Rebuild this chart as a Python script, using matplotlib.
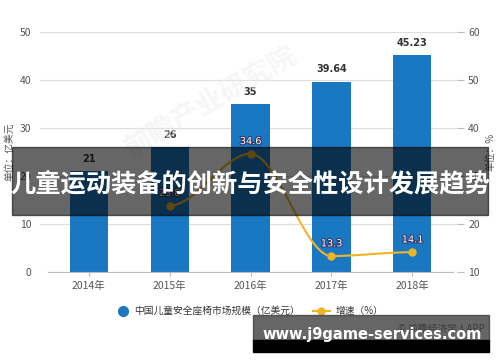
import numpy as np
import matplotlib.pyplot as plt
import matplotlib.patheffects as pe
from matplotlib.patches import Rectangle

plt.rcParams['font.family'] = ['Noto Sans CJK SC', 'DejaVu Sans']

# Data
years = ['2014年', '2015年', '2016年', '2017年', '2018年']
market = [21, 26, 35, 39.64, 45.23]
market_labels = ['21', '26', '35', '39.64', '45.23']
growth_years = [1, 2, 3, 4]
growth = [23.8, 34.6, 13.3, 14.1]

bar_color = '#1a78c2'
line_color = '#f0b428'
grey = '#555555'

fig = plt.figure(figsize=(5, 3.62), dpi=100)
ax = fig.add_axes([0.08, 0.249, 0.834, 0.663])
ax2 = ax.twinx()

x = np.arange(len(years))
ax.bar(x, market, width=0.47, color=bar_color, zorder=2)
for xi, v, lab in zip(x, market, market_labels):
    ax.text(xi, v + 1.5, lab, ha='center', va='bottom', fontsize=7,
            fontweight='bold', color='#333333', family=['DejaVu Sans'])

ax.set_ylim(0, 50)
ax.set_yticks(range(0, 51, 10))
ax.set_xlim(-0.6, 4.55)
ax.set_xticks(x)
ax.set_xticklabels(years)
ax.grid(axis='y', color='#dddddd', linewidth=0.8, zorder=0)
ax.set_axisbelow(True)
for s in ['top', 'right', 'left']:
    ax.spines[s].set_visible(False)
ax2.spines[:].set_visible(False)
ax.spines['bottom'].set_color('#bbbbbb')
ax.spines['bottom'].set_bounds(-0.5, 4.5)
ax.tick_params(axis='x', colors='#bbbbbb', length=3, labelcolor=grey, labelsize=7.5)
ax.tick_params(axis='y', length=0, labelcolor=grey, labelsize=7.5, pad=6)
ax.set_ylabel('单位：亿美元', fontsize=7, color=grey, labelpad=4)

# smooth growth line (monotone-ish Hermite curve through the points)
gx = np.array(growth_years, dtype=float)
gy = np.array(growth)
px = np.concatenate([[2 * gx[0] - gx[1]], gx, [2 * gx[-1] - gx[-2]]])
py = np.concatenate([[gy[0]], gy, [gy[-1]]])
sx, sy = [], []
for i in range(1, len(px) - 2):
    t = np.linspace(0, 1, 30)
    p0, p1, p2, p3 = [np.array([px[j], py[j]]) for j in range(i - 1, i + 3)]
    m1 = (p2 - p0) / 2
    m2 = (p3 - p1) / 2
    m1[1] = 0 if (p1[1] - p0[1]) * (p2[1] - p1[1]) <= 0 else m1[1]
    m2[1] = 0 if (p2[1] - p1[1]) * (p3[1] - p2[1]) <= 0 else m2[1]
    h00 = 2 * t**3 - 3 * t**2 + 1
    h10 = t**3 - 2 * t**2 + t
    h01 = -2 * t**3 + 3 * t**2
    h11 = t**3 - t**2
    seg = (np.outer(h00, p1) + np.outer(h10, m1) + np.outer(h01, p2) + np.outer(h11, m2))
    sx.extend(seg[:, 0]); sy.extend(seg[:, 1])
ax2.plot(sx, sy, color=line_color, linewidth=1.5, zorder=3)
ax2.plot(gx, gy, 'o', color=line_color, markersize=5, zorder=4)
for xi, v in zip(gx, gy):
    ax2.text(xi, v + 1.6, f'{v}', ha='center', va='bottom', fontsize=7,
             color='white', family=['DejaVu Sans'],
             path_effects=[pe.withStroke(linewidth=1.5, foreground='#333366')])
ax2.set_ylim(10, 60)
ax2.set_yticks(range(10, 61, 10))
ax2.tick_params(axis='y', length=5, color='#bbbbbb', labelcolor=grey, labelsize=7.5, pad=3)
ax2.set_ylabel('单位：%', fontsize=7, color=grey, labelpad=4)

# faint watermark
fig.text(0.42, 0.72, '前瞻产业研究院', fontsize=20, color='#eeeeee', rotation=30,
         ha='center', va='center', fontweight='bold', zorder=0, alpha=0.5)

# legend
fig.lines.append(plt.Line2D([0.246], [0.141], marker='o', markersize=7, color=bar_color,
                            transform=fig.transFigure))
fig.text(0.268, 0.141, '中国儿童安全座椅市场规模（亿美元）', fontsize=7, color='#333333', va='center')
fig.lines.append(plt.Line2D([0.625, 0.66], [0.141, 0.141], color=line_color, linewidth=1.5,
                            transform=fig.transFigure))
fig.lines.append(plt.Line2D([0.6425], [0.141], marker='o', markersize=5, color=line_color,
                            transform=fig.transFigure))
fig.text(0.672, 0.141, '增速（%）', fontsize=7, color='#333333', va='center')

# title banner overlay
fig.patches.append(Rectangle((0.024, 0.406), 0.952, 0.188, transform=fig.transFigure,
                             color='black', alpha=0.6, zorder=10))
fig.text(0.5, 0.49, '儿童运动装备的创新与安全性设计发展趋势', fontsize=18.2, color='white',
         fontweight='bold', ha='center', va='center', zorder=11)

# bottom site watermark
fig.text(0.97, 0.09, '© 前瞻经济学人APP', fontsize=7, color='#555555', ha='right', va='center', zorder=9)
fig.patches.append(Rectangle((0.506, 0.058), 0.472, 0.072, transform=fig.transFigure,
                             color='#333333', alpha=0.75, zorder=10))
fig.patches.append(Rectangle((0.506, 0.028), 0.472, 0.032, transform=fig.transFigure,
                             color='black', zorder=10))
fig.text(0.525, 0.075, 'www.j9game-services.com', fontsize=10.5, color='white',
         fontweight='bold', ha='left', va='center', zorder=11, family=['DejaVu Sans'])

fig.savefig('out.png', dpi=100)
